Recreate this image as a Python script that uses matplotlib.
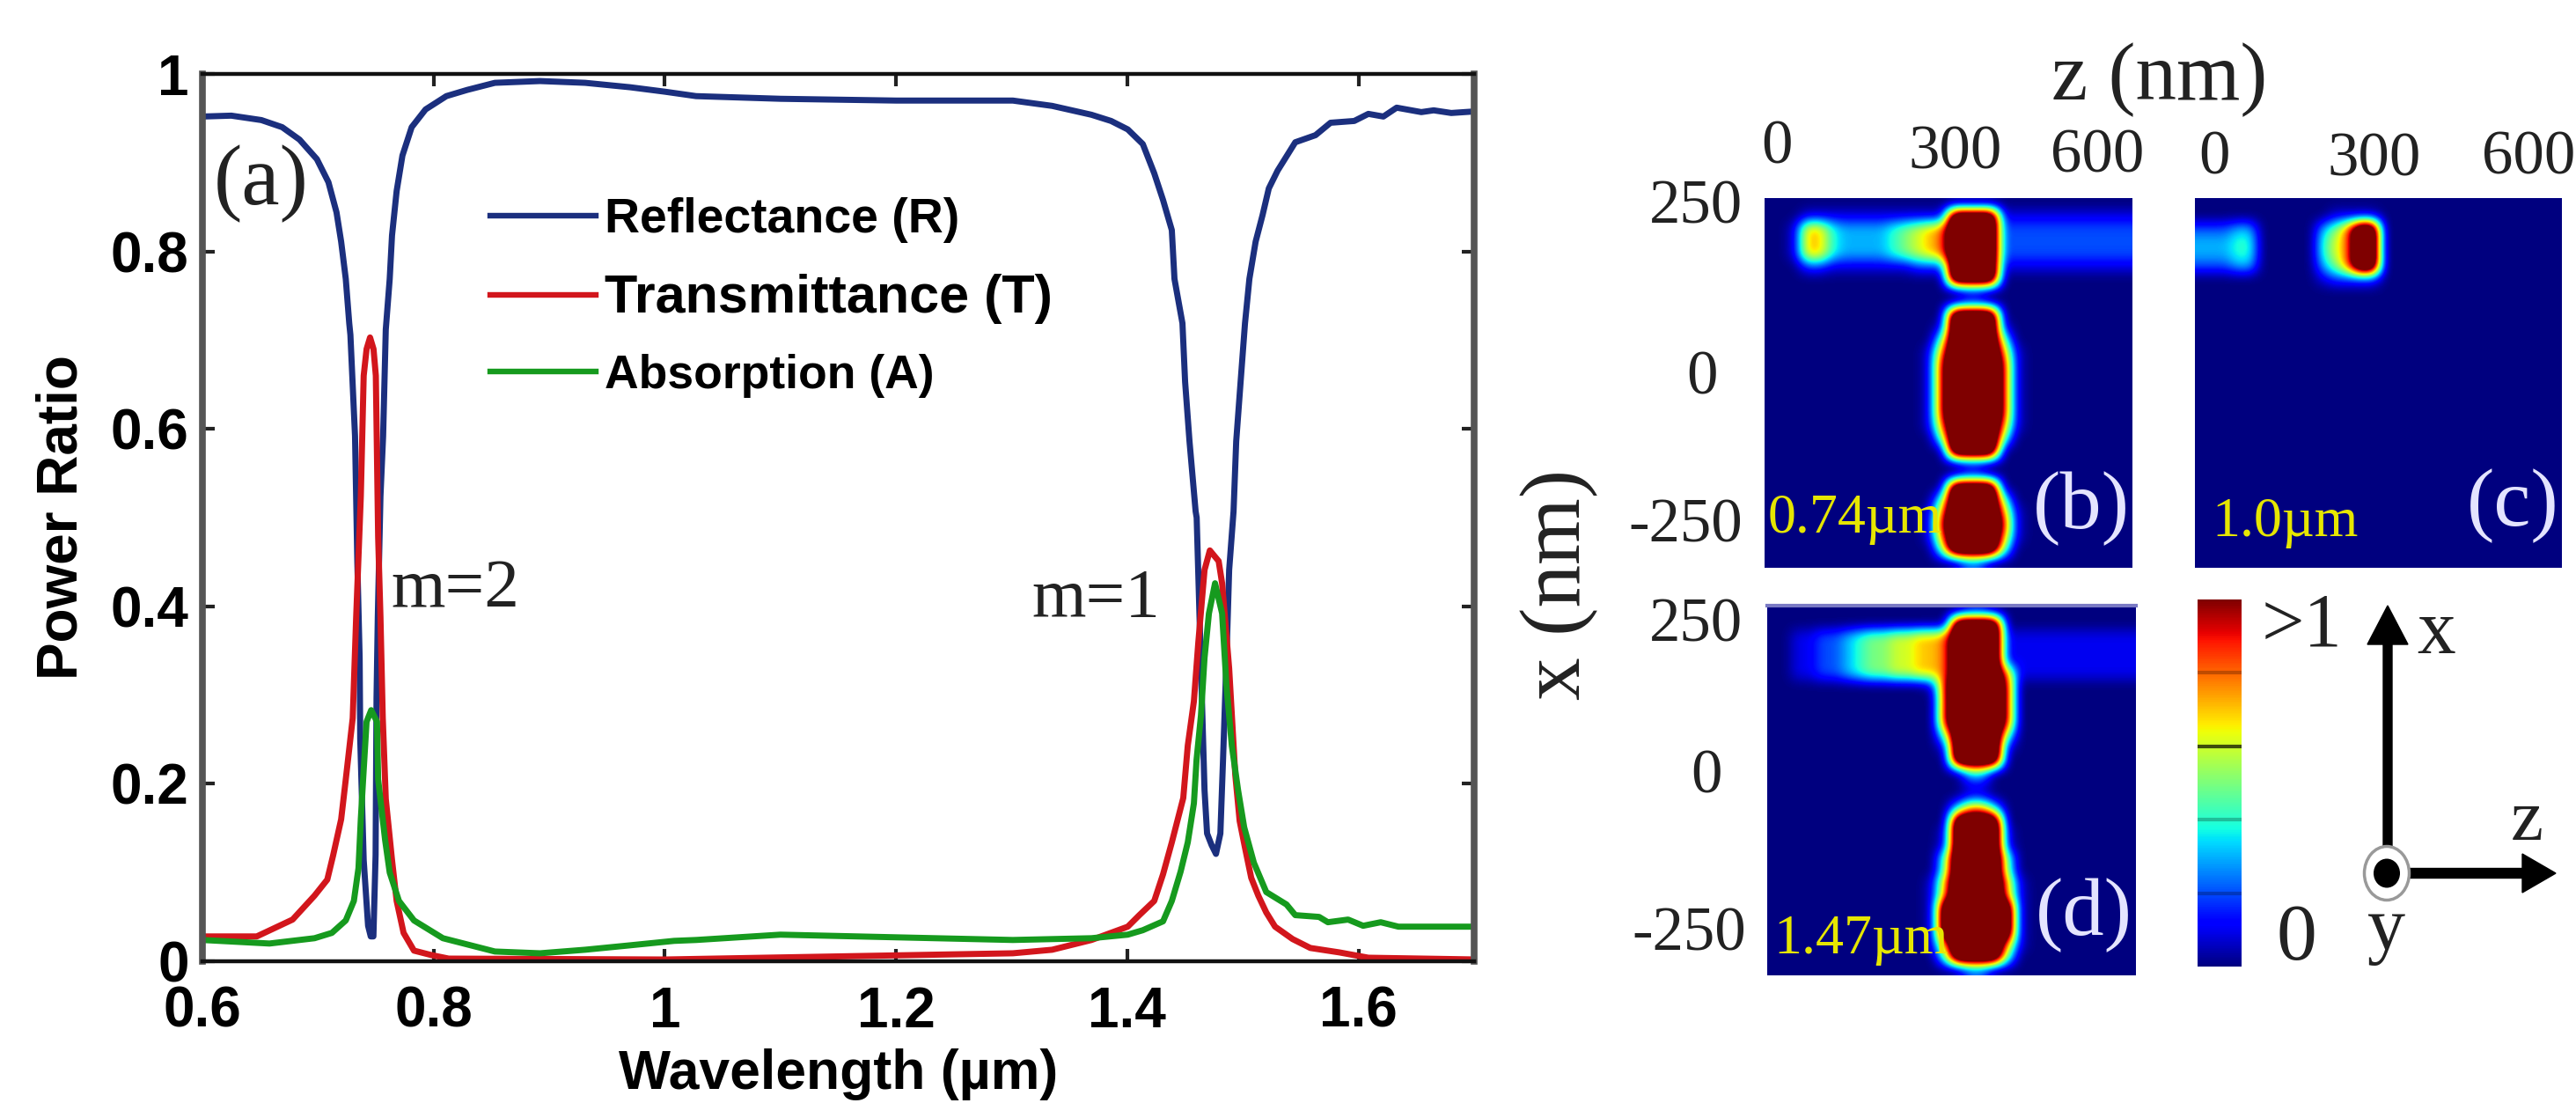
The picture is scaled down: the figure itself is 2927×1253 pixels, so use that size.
#!/usr/bin/env python3
"""Spectra (R, T, A) of a grating plus three field maps and the axis sketch."""

import numpy as np
import matplotlib
matplotlib.use('Agg')
import matplotlib.pyplot as plt
from matplotlib.cm import ScalarMappable
from matplotlib.colors import Normalize
from matplotlib.lines import Line2D
from matplotlib.patches import Ellipse, FancyArrow

W, H = 2927, 1253

# wavelength (um), value pairs
r_wl = [0.6, 0.625, 0.651, 0.669, 0.684, 0.699, 0.709, 0.716, 0.72, 0.724, 0.727, 0.728, 0.732, 0.734,
        0.736, 0.7365, 0.7395, 0.7433, 0.7456, 0.7479, 0.7498, 0.7506, 0.7517, 0.754, 0.7563, 0.7586,
        0.762, 0.764, 0.768, 0.773, 0.781, 0.793, 0.811, 0.829, 0.853, 0.892, 0.931, 0.97, 1.0, 1.027,
        1.1, 1.2, 1.301, 1.335, 1.369, 1.386, 1.4004, 1.4134, 1.4233, 1.4309, 1.4385, 1.4408, 1.4477,
        1.45, 1.4538, 1.4591, 1.46, 1.4668, 1.469, 1.4729, 1.4767, 1.4805, 1.4828, 1.4858, 1.4881,
        1.4919, 1.4942, 1.498, 1.5018, 1.5056, 1.511, 1.517, 1.5224, 1.53, 1.5453, 1.5628, 1.5758,
        1.5963, 1.6085, 1.6215, 1.633, 1.6543, 1.665, 1.6802, 1.7031]
r_val = [0.952, 0.953, 0.948, 0.94, 0.926, 0.904, 0.878, 0.844, 0.811, 0.769, 0.719, 0.706, 0.592, 0.45,
         0.342, 0.251, 0.114, 0.04, 0.028, 0.028, 0.12, 0.297, 0.388, 0.524, 0.592, 0.712,
         0.769, 0.818, 0.868, 0.908, 0.94, 0.96, 0.975, 0.982, 0.99, 0.992, 0.99, 0.985, 0.98, 0.975,
         0.972, 0.97, 0.97, 0.964, 0.954, 0.947, 0.9375, 0.921, 0.888, 0.858, 0.824, 0.769, 0.719,
         0.653, 0.586, 0.507, 0.5, 0.193, 0.144, 0.131, 0.121, 0.144, 0.227, 0.342, 0.441,
         0.507, 0.586, 0.653, 0.719, 0.769, 0.811, 0.841, 0.871, 0.891, 0.923, 0.931, 0.945,
         0.947, 0.955, 0.952, 0.962, 0.957, 0.959, 0.956, 0.958]

t_wl = [0.6, 0.647, 0.678, 0.697, 0.708, 0.713, 0.72, 0.724, 0.73, 0.733, 0.737, 0.7395, 0.742, 0.745,
        0.748, 0.75, 0.752, 0.754, 0.756, 0.7586, 0.764, 0.768, 0.774, 0.783, 0.798, 0.813, 1.0,
        1.301, 1.335, 1.369, 1.4004, 1.4104, 1.4233, 1.4309, 1.4385, 1.4484, 1.4523, 1.4576, 1.4614,
        1.4668, 1.4714, 1.479, 1.482, 1.4881, 1.4934, 1.4972, 1.5018, 1.5072, 1.5133, 1.5202, 1.5278,
        1.543, 1.5583, 1.5834, 1.6085, 1.7031]
t_val = [0.028, 0.028, 0.047, 0.074, 0.092, 0.119, 0.16, 0.205, 0.274, 0.388, 0.524, 0.66, 0.69, 0.703,
         0.69, 0.66, 0.478, 0.388, 0.274, 0.183, 0.114, 0.068, 0.032, 0.012, 0.007, 0.003, 0.002,
         0.009, 0.013, 0.024, 0.039, 0.052, 0.068, 0.098, 0.134, 0.184, 0.243, 0.293, 0.359,
         0.441, 0.463, 0.451, 0.426, 0.33, 0.21, 0.158, 0.128, 0.094, 0.074, 0.055, 0.039,
         0.025, 0.015, 0.01, 0.004, 0.002]

a_wl = [0.6, 0.658, 0.697, 0.712, 0.724, 0.731, 0.735, 0.737, 0.739, 0.742, 0.746, 0.751, 0.752, 0.758,
        0.762, 0.77, 0.783, 0.808, 0.853, 0.892, 0.931, 0.97, 1.008, 1.027, 1.1, 1.2, 1.301, 1.369,
        1.4004, 1.4134, 1.4309, 1.4385, 1.4461, 1.4523, 1.4576, 1.4599, 1.4637, 1.4668, 1.4706, 1.4759,
        1.482, 1.4858, 1.4904, 1.4958, 1.5011, 1.5095, 1.5202, 1.5377, 1.5453, 1.5659, 1.5735, 1.591,
        1.604, 1.6192, 1.6345, 1.7031]
a_val = [0.024, 0.02, 0.026, 0.032, 0.046, 0.068, 0.105, 0.16, 0.205, 0.27, 0.283, 0.27, 0.205, 0.137,
         0.1, 0.068, 0.046, 0.026, 0.011, 0.009, 0.013, 0.018, 0.023, 0.024, 0.03, 0.027, 0.024, 0.026,
         0.03, 0.035, 0.045, 0.068, 0.101, 0.134, 0.178, 0.227, 0.277, 0.342, 0.392, 0.426,
         0.392, 0.31, 0.243, 0.193, 0.151, 0.111, 0.078, 0.064, 0.052, 0.05, 0.044, 0.047,
         0.04, 0.044, 0.039, 0.039]

x_ticks = [0.6, 0.8, 1.0, 1.2, 1.4, 1.6]
x_tick_labels = ['0.6', '0.8', '1', '1.2', '1.4', '1.6']
y_ticks = [0, 0.2, 0.4, 0.6, 0.8, 1]
y_tick_labels = ['0', '0.2', '0.4', '0.6', '0.8', '1']

# field maps, one char per cell: digit = tenths, a = 1, X = above 1 (saturated)
field_b = [
    "000000000000000000000000000000",
    "000111111111111XXXX11111111111",
    "001774333345678XXXX22222222222",
    "001774333345678XXXX22222222222",
    "001774333345678XXXX22222222222",
    "000221111111222XXXX11111111111",
    "000000000000000XXXX00000000000",
    "000000000000000011000000000000",
    "000000000000000011000000000000",
    "000000000000000XXXX00000000000",
    "000000000000001XXXX10000000000",
    "000000000000005XXXX50000000000",
    "000000000000018XXXX81000000000",
    "00000000000001aXXXXa1000000000",
    "00000000000001aXXXXa1000000000",
    "00000000000001aXXXXa1000000000",
    "00000000000001aXXXXa1000000000",
    "00000000000001aXXXXa1000000000",
    "000000000000018XXXX81000000000",
    "000000000000005XXXX50000000000",
    "000000000000000XXXX00000000000",
    "000000000000000011000000000000",
    "000000000000000011000000000000",
    "000000000000000XXXX00000000000",
    "000000000000005XXXX50000000000",
    "000000000000018XXXX81000000000",
    "00000000000001aXXXXa1000000000",
    "000000000000018XXXX81000000000",
    "000000000000005XXXX50000000000",
    "000000000000000022000000000000",
]
field_c = [
    "000000000000000000000000000000",
    "000000000001111000000000000000",
    "2223300000358XX000000000000000",
    "3334400000468XX000000000000000",
    "3334400000468XX000000000000000",
    "2223300000358XX000000000000000",
    "000000000012222000000000000000",
] + ["000000000000000000000000000000"] * 23
field_d = [
    "000000000000000011000000000000",
    "000000000000000XXXX00000000000",
    "001122345566778XXXX11111111111",
    "001122345566778XXXX11111111111",
    "001122345566778XXXX11111111111",
    "001122345566778XXXX81111111111",
    "00000000000001aXXXXa0000000000",
    "00000000000000aXXXXa0000000000",
    "00000000000000aXXXXa0000000000",
    "00000000000000aXXXXa0000000000",
    "000000000000005XXXX50000000000",
    "000000000000001XXXX10000000000",
    "000000000000000XXXX00000000000",
    "000000000000000044000000000000",
    "000000000000000011000000000000",
    "000000000000000011000000000000",
    "000000000000000488400000000000",
    "000000000000000XXXX00000000000",
    "000000000000001XXXX10000000000",
    "000000000000001XXXX10000000000",
    "000000000000005XXXX50000000000",
    "000000000000005XXXX50000000000",
    "000000000000018XXXX81000000000",
    "000000000000018XXXX81000000000",
    "00000000000001XXXXXX1000000000",
    "00000000000001XXXXXX1000000000",
    "00000000000001XXXXXX1000000000",
    "000000000000018XXXX81000000000",
    "000000000000005XXXX50000000000",
    "000000000000000022000000000000",
]


def parse_field(rows):
    lookup = {'a': 1.0, 'X': 1.5}
    return np.array([[lookup[c] if c in lookup else int(c) / 10 for c in row] for row in rows])


def px_axes(fig, x0, y0, x1, y1):
    # pixel box in picture coordinates (y down) to a figure axes
    return fig.add_axes([x0 / W, 1 - y1 / H, (x1 - x0) / W, (y1 - y0) / H])


def px_text(fig, x, y, s, **kw):
    kw.setdefault('family', 'Liberation Serif')
    kw.setdefault('color', '#222222')
    return fig.text(x / W, 1 - y / H, s, **kw)


fig = plt.figure(figsize=(W / 100, H / 100), dpi=100, facecolor='white')
sans = {'family': 'Liberation Sans', 'fontweight': 'bold'}

# panel (a)
ax = px_axes(fig, 230, 84, 1675, 1092)
navy, red, green = '#1b2f7e', '#d2161c', '#169a1e'
ax.plot(r_wl, r_val, color=navy, lw=5, solid_joinstyle='round')
ax.plot(t_wl, t_val, color=red, lw=5, solid_joinstyle='round')
ax.plot(a_wl, a_val, color=green, lw=5, solid_joinstyle='round')
ax.set_xlim(0.6, 1.7)
ax.set_ylim(0, 1)
ax.set_xticks(x_ticks)
ax.set_xticklabels(x_tick_labels, fontsize=46, **sans)
ax.set_yticks(y_ticks)
ax.set_yticklabels(y_tick_labels, fontsize=46, **sans)
ax.tick_params(axis='both', direction='in', top=True, right=True, length=10, width=3, color='#222222')
ax.tick_params(axis='x', pad=20)
ax.tick_params(axis='y', pad=11)
ax.set_xlabel('Wavelength (µm)', fontsize=45, labelpad=8, **sans)
ax.set_ylabel('Power Ratio', fontsize=46, labelpad=18, **sans)
for side in ('left', 'right'):
    ax.spines[side].set_linewidth(5.5)
    ax.spines[side].set_color('#555555')
for side in ('top', 'bottom'):
    ax.spines[side].set_linewidth(3.2)
    ax.spines[side].set_color('#111111')

handles = [Line2D([], [], color=navy, lw=4.6), Line2D([], [], color=red, lw=4.6), Line2D([], [], color=green, lw=4.6)]
leg = ax.legend(handles, ['Reflectance (R)', 'Transmittance (T)', 'Absorption (A)'],
                loc='upper left', bbox_to_anchor=(0.226, 0.861), frameon=False, handlelength=2.16,
                handletextpad=0.18, labelspacing=0.62, borderpad=0, borderaxespad=0,
                prop={'family': 'Liberation Sans', 'weight': 'bold', 'size': 40})
# the three labels are not the same width in the reference
leg.get_texts()[1].set_fontsize(44)
leg.get_texts()[2].set_fontsize(38.5)

px_text(fig, 297, 209, '(a)', fontsize=70, ha='center', va='center')
px_text(fig, 444, 689, 'm=2', fontsize=57, ha='left', va='baseline')
px_text(fig, 1172, 700, 'm=1', fontsize=57, ha='left', va='baseline')

# field maps
panels = [(field_b, (2005, 225, 2423, 645)), (field_c, (2494, 225, 2911, 645)), (field_d, (2008, 688, 2427, 1108))]
for rows, box in panels:
    axf = px_axes(fig, *box)
    axf.imshow(parse_field(rows), cmap='jet', vmin=0, vmax=1, aspect='auto', interpolation='bicubic')
    axf.set_xticks([])
    axf.set_yticks([])
    for sp in axf.spines.values():
        sp.set_visible(False)
    if rows is field_d:
        axf.spines['top'].set_visible(True)
        axf.spines['top'].set_color('#7a7ac4')
        axf.spines['top'].set_linewidth(3)

px_text(fig, 2331, 113, 'z (nm)', fontsize=67, ha='left', va='baseline')
for x, y, s in [(2019, 186, '0'), (2222, 192, '300'), (2383, 196, '600'),
                (2516, 198, '0'), (2698, 200, '300'), (2873, 198, '600')]:
    px_text(fig, x, y, s, fontsize=51, ha='center', va='baseline')
for x, y, s, ha in [(1980, 236, '250', 'right'), (1934, 430, '0', 'center'), (1980, 598, '-250', 'right'),
                    (1980, 711, '250', 'right'), (1939, 883, '0', 'center'), (1984, 1062, '-250', 'right')]:
    px_text(fig, x, y, s, fontsize=51, ha=ha, va='center')
px_text(fig, 1772, 664, 'x (nm)', fontsize=70, rotation=90, ha='center', va='center')

for x, y, s in [(2009, 605, '0.74µm'), (2513, 609, '1.0µm'), (2015, 1083, '1.47µm')]:
    px_text(fig, x, y, s, fontsize=46, ha='left', va='baseline', color='#e6e600')
for x, y, s in [(2365, 578, '(b)'), (2855, 575, '(c)'), (2368, 1040, '(d)')]:
    px_text(fig, x, y, s, fontsize=68, ha='center', va='center', color='#e4e4ff')

# colour bar, the 0.6 tick is the only dark one in the reference
cax = px_axes(fig, 2497, 681, 2547, 1098)
cbar = fig.colorbar(ScalarMappable(Normalize(0, 1), cmap='jet'), cax=cax)
cbar.set_ticks([0.2, 0.4, 0.6, 0.8])
cbar.set_ticklabels([])
cbar.ax.tick_params(direction='in', length=36, width=3)
for line, alpha in zip(cbar.ax.yaxis.get_ticklines(), [0.25, 0.25, 0.25, 0.25, 0.7, 0.7, 0.25, 0.25]):
    line.set_alpha(alpha)
cbar.outline.set_visible(False)
px_text(fig, 2570, 733, '>1', fontsize=62, ha='left', va='baseline')
px_text(fig, 2609, 1090, '0', fontsize=66, ha='center', va='baseline')

# axis sketch, on a figure wide overlay in pixels
ov = fig.add_axes([0, 0, 1, 1], facecolor='none')
ov.set_xlim(0, W)
ov.set_ylim(H, 0)
ov.axis('off')
ov.add_patch(FancyArrow(2713, 965, 0, -277, width=10, head_width=46, head_length=44,
                        length_includes_head=True, color='black'))
ov.add_patch(FancyArrow(2736, 992, 168, 0, width=11, head_width=44, head_length=38,
                        length_includes_head=True, color='black'))
ov.add_patch(Ellipse((2712, 992), 51, 61, facecolor='white', edgecolor='#999999', lw=2.5))
ov.add_patch(Ellipse((2712, 992), 30, 33, facecolor='black', edgecolor='none'))
px_text(fig, 2768, 742, 'x', fontsize=63, ha='center', va='baseline')
px_text(fig, 2871, 954, 'z', fontsize=60, ha='center', va='baseline')
px_text(fig, 2712, 1078, 'y', fontsize=62, ha='center', va='baseline')

plt.savefig('out.png', dpi=100)
